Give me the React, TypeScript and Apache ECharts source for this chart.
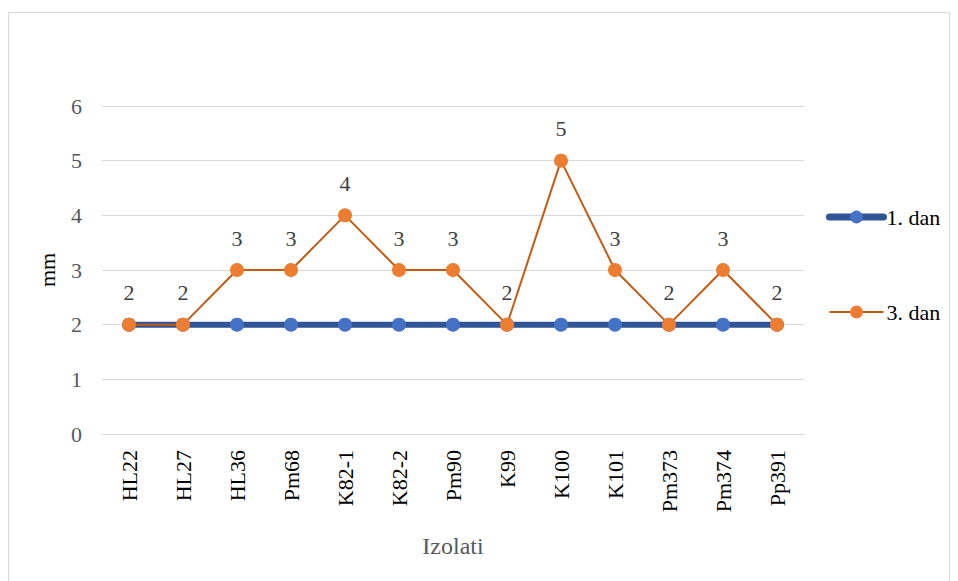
import React, { useEffect, useRef } from "react";
import * as echarts from "echarts";

const categories = ["HL22", "HL27", "HL36", "Pm68", "K82-1", "K82-2", "Pm90", "K99", "K100", "K101", "Pm373", "Pm374", "Pp391"];
const day1 = [2, 2, 2, 2, 2, 2, 2, 2, 2, 2, 2, 2, 2];
const day3 = [2, 2, 3, 3, 4, 3, 3, 2, 5, 3, 2, 3, 2];
const seriesNames = ["1. dan", "3. dan"];

export default function App() {
  const ref = useRef<HTMLDivElement>(null);
  useEffect(() => {
    if (!ref.current) return;
    const chart = echarts.init(ref.current, null, { renderer: "svg" });
    const font = "Liberation Serif";
    chart.setOption({
      animation: false,
      textStyle: { fontFamily: font },
      graphic: [
        {
          type: "rect",
          shape: { x: 8.5, y: 12.5, width: 941, height: 575 },
          style: { fill: "none", stroke: "#D9D9D9", lineWidth: 1 },
          silent: true,
        },
      ],
      grid: { left: 102, right: 154, top: 106, bottom: 147, containLabel: false },
      legend: {
        orient: "vertical",
        left: 821,
        top: 201,
        itemWidth: 54,
        itemHeight: 16,
        itemGap: 73,
        textStyle: { fontFamily: font, fontSize: 22, color: "#000", padding: [0, 0, 0, -2] },
        data: [
          { name: seriesNames[0], lineStyle: { width: 7, color: "#2F5597", cap: "round" } },
          { name: seriesNames[1], lineStyle: { width: 2, color: "#C55A11" } },
        ],
      },
      xAxis: {
        type: "category",
        data: categories,
        name: "Izolati",
        nameLocation: "middle",
        nameGap: 100,
        nameTextStyle: { fontFamily: font, fontSize: 24, color: "#595959" },
        axisLine: { lineStyle: { color: "#D9D9D9", width: 1 } },
        axisTick: { show: false },
        axisLabel: { rotate: 90, fontFamily: font, fontSize: 22, color: "#000", margin: 16, interval: 0 },
      },
      yAxis: {
        type: "value",
        min: 0,
        max: 6,
        interval: 1,
        name: "mm",
        nameLocation: "middle",
        nameGap: 44,
        nameRotate: 90,
        nameTextStyle: { fontFamily: font, fontSize: 22, color: "#000" },
        axisLine: { show: false },
        axisTick: { show: false },
        splitLine: { lineStyle: { color: "#D9D9D9", width: 1 } },
        axisLabel: { fontFamily: font, fontSize: 22, color: "#595959", margin: 20 },
      },
      series: [
        {
          name: seriesNames[0],
          type: "line",
          data: day1,
          symbol: "circle",
          symbolSize: 14,
          lineStyle: { color: "#2F5597", width: 6 },
          itemStyle: { color: "#4472C4" },
          z: 2,
        },
        {
          name: seriesNames[1],
          type: "line",
          data: day3,
          symbol: "circle",
          symbolSize: 14,
          lineStyle: { color: "#C55A11", width: 2 },
          itemStyle: { color: "#ED7D31" },
          label: {
            show: true,
            position: "top",
            distance: 14,
            fontFamily: font,
            fontSize: 22,
            color: "#404040",
          },
          z: 3,
        },
      ],
    });
    return () => chart.dispose();
  }, []);
  return <div ref={ref} style={{ position: "absolute", left: 0, top: 0, width: 958, height: 581 }} />;
}
